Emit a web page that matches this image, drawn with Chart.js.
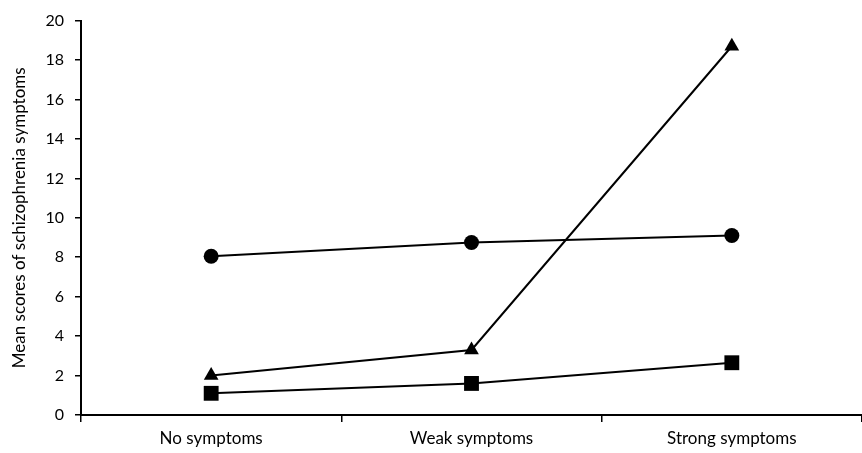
<!DOCTYPE html>
<html>
<head>
<meta charset="utf-8">
<script src="https://cdn.jsdelivr.net/npm/chart.js@4"></script>
<style>
html,body{margin:0;padding:0;background:#fff;}
#wrap{width:862px;height:453px;position:relative;}
</style>
</head>
<body>
<div id="wrap"><canvas id="c"></canvas></div>
<script>
const categories = ["No symptoms", "Weak symptoms", "Strong symptoms"];
const circleSeries = [8.05, 8.75, 9.1];
const triangleSeries = [2.0, 3.3, 18.7];
const squareSeries = [1.1, 1.6, 2.65];
const yTicks = [0, 2, 4, 6, 8, 10, 12, 14, 16, 18, 20];
const yTitle = "Mean scores of schizophrenia symptoms";

const FONT = "Lato, 'Open Sans', sans-serif";
function ds(label, data, style, radius) {
  return {
    label, data,
    borderColor: "#000", backgroundColor: "#000",
    borderWidth: 2, pointStyle: style, pointRadius: radius,
    pointBorderWidth: 0, pointBackgroundColor: "#000",
    tension: 0, fill: false, clip: false
  };
}
new Chart(document.getElementById("c"), {
  type: "line",
  data: {
    labels: categories,
    datasets: [
      ds("circle", circleSeries, "circle", 7.5),
      ds("triangle", triangleSeries, "triangle", 8.5),
      ds("square", squareSeries, "rect", 10.5)
    ]
  },
  options: {
    responsive: true, maintainAspectRatio: false, animation: false,
    layout: { autoPadding: false, padding: { top: 20, right: 0, left: 0, bottom: 0 } },
    plugins: { legend: { display: false }, tooltip: { enabled: false } },
    scales: {
      x: {
        offset: true,
        grid: { display: true, drawOnChartArea: false, drawTicks: true, tickLength: 7, color: "#000", lineWidth: 1.5, offset: true },
        border: { display: true, color: "#000", width: 2 },
        ticks: { color: "#000", font: { family: FONT, size: 17 }, padding: 6, maxRotation: 0 },
        afterFit: (s) => { s.height = 38; s.paddingRight = 0; s.paddingLeft = 0; }
      },
      y: {
        min: 0, max: 20,
        afterBuildTicks: (s) => { s.ticks = yTicks.map(v => ({ value: v })); },
        grid: { display: true, drawOnChartArea: false, drawTicks: true, tickLength: 6, color: "#000", lineWidth: 1.5 },
        border: { display: true, color: "#000", width: 2 },
        ticks: { color: "#000", font: { family: FONT, size: 16 }, padding: 11 },
        title: { display: true, text: yTitle, color: "#000", font: { family: FONT, size: 17 }, padding: { top: 9, bottom: 4 } },
        afterFit: (s) => { s.width = 81; }
      }
    }
  }
});
</script>
</body>
</html>
